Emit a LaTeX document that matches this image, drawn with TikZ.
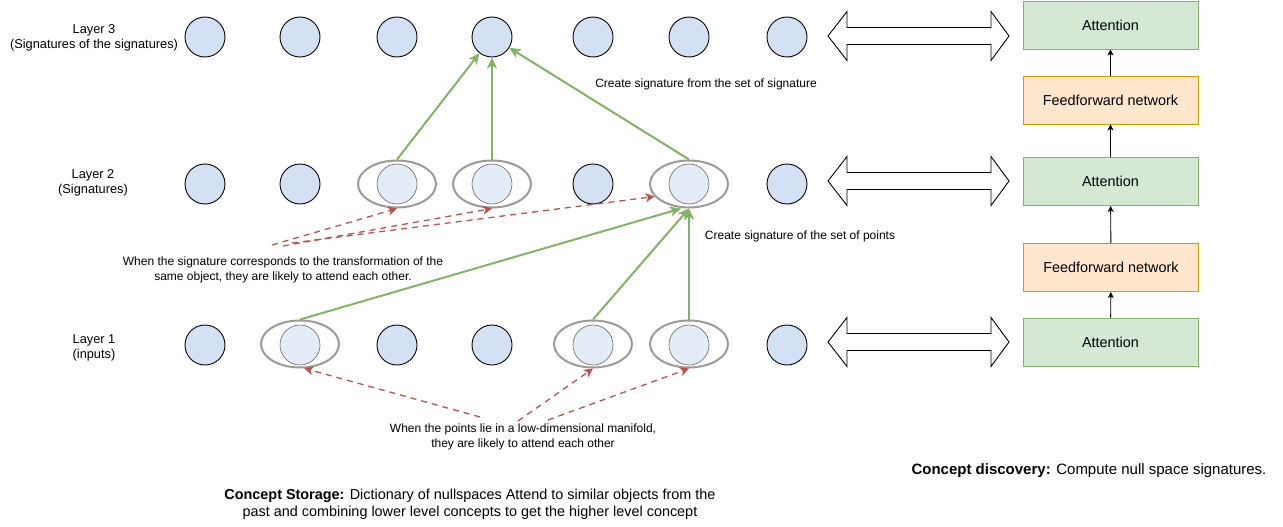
\documentclass[tikz,border=0pt]{standalone}
\usepackage{fontspec}
\setmainfont{Liberation Sans}
\usetikzlibrary{arrows.meta,shapes.geometric}
\definecolor{dotfill}{HTML}{D4E1F5}
\definecolor{palefill}{HTML}{E4ECF8}
\definecolor{ringgray}{HTML}{9A9A9A}
\definecolor{innergray}{HTML}{666666}
\definecolor{grn}{HTML}{82B366}
\definecolor{rd}{HTML}{B85450}
\definecolor{attfill}{HTML}{D5E8D4}
\definecolor{fffill}{HTML}{FFE6CC}
\definecolor{ffline}{HTML}{D79B00}

\tikzset{
  dot/.style={circle,draw=black,fill=dotfill,line width=0.9pt,minimum size=40pt,inner sep=0pt},
  pale/.style={circle,draw=innergray,fill=palefill,line width=0.6pt,minimum size=40pt,inner sep=0pt},
  ring/.style={ellipse,draw=ringgray,line width=2pt,minimum width=78pt,minimum height=47pt,inner sep=0pt},
  lbl/.style={align=center,font=\fontsize{12.8}{15.5}\selectfont},
  note/.style={align=center,font=\fontsize{12}{15}\selectfont},
  concept/.style={align=center,font=\fontsize{14.4}{17}\selectfont},
  attbox/.style={draw=grn,fill=attfill,line width=0.9pt,minimum width=175pt,minimum height=48pt,font=\fontsize{14.4}{16}\selectfont},
  ffbox/.style={draw=ffline,fill=fffill,line width=0.9pt,minimum width=175pt,minimum height=48pt,font=\fontsize{14.4}{16}\selectfont},
  sigarrow/.style={draw=grn,line width=2pt,-{Stealth[length=11pt,width=10pt,inset=3pt]}},
  attendarrow/.style={draw=rd,line width=1.3pt,dash pattern=on 6pt off 5pt,-{Stealth[length=9pt,width=9pt,inset=2.5pt]}},
  uparrow/.style={draw=black,line width=0.9pt,-{Stealth[length=6pt,width=6pt,inset=1.5pt]}},
  blockarr/.style={draw=black,fill=white,line width=0.9pt,line join=miter}
}

\begin{document}
\begin{tikzpicture}[x=1pt,y=-1pt]
  \useasboundingbox (0,0) rectangle (1283,527);

  % layer 3
  \foreach \x [count=\i] in {205,300,397,492,593,689,787}
    \node[dot] (c3-\i) at (\x,37) {};

  % layer 2
  \foreach \i/\x in {1/205,2/300,5/593,7/787}
    \node[dot] (c2-\i) at (\x,184) {};
  \foreach \i/\x in {3/397,4/492,6/689} {
    \node[ring] (e2-\i) at (\x,184) {};
    \node[pale] (c2-\i) at (\x,184) {};
  }

  % layer 1
  \foreach \i/\x in {1/205,3/397,4/492,7/787}
    \node[dot] (c1-\i) at (\x,345) {};
  \foreach \i/\x in {2/300,5/593,6/689} {
    \node[ring] (e1-\i) at (\x,344) {};
    \node[pale] (c1-\i) at (\x,345) {};
  }

  \node[lbl] (l3) at (94,38) {Layer 3\\(Signatures of the signatures)};
  \node[lbl] (l2) at (93,183) {Layer 2\\(Signatures)};
  \node[lbl] (l1) at (94,348) {Layer 1\\(inputs)};

  % signatures
  \draw[sigarrow] (e2-3.north) -- (c3-4);
  \draw[sigarrow] (e2-4.north) -- (c3-4);
  \draw[sigarrow] (e2-6.north) -- (c3-4);
  \draw[sigarrow] (e1-2.north) -- ([xshift=-8pt]e2-6.south);
  \draw[sigarrow] (e1-5.north) -- (e2-6.south);
  \draw[sigarrow] (e1-6.north) -- (e2-6.south);

  \node[note] (t3) at (706,84) {Create signature from the set of signature};
  \node[note] (t2) at (800,236) {Create signature of the set of points};

  % attention between signatures
  \coordinate (s2a) at (272,245);
  \coordinate (s2b) at (283,246);
  \coordinate (s2c) at (292,243);
  \draw[attendarrow] (s2a) -- (e2-3.south);
  \draw[attendarrow] (s2b) -- (e2-4.south);
  \draw[attendarrow] (s2c) -- (e2-6.200);
  \node[note] (n2) at (283,270) {When the signature corresponds to the transformation of the\\same object, they are likely to attend each other.};

  % attention between points
  \coordinate (s1a) at (480,417);
  \coordinate (s1b) at (518,421);
  \coordinate (s1c) at (548,420);
  \draw[attendarrow] (s1a) -- (e1-2.-80);
  \draw[attendarrow] (s1b) -- (e1-5.south);
  \draw[attendarrow] (s1c) -- (e1-6.south);
  \node[note] (n1) at (523,437) {When the points lie in a low-dimensional manifold,\\they are likely to attend each other};

  % block arrows
  \foreach \c in {36,181,342}
    \draw[blockarr] (828,\c) -- ++(19,-24.5) -- ++(0,16) -- ++(144,0) -- ++(0,-16)
      -- ++(18,24.5) -- ++(-18,24.5) -- ++(0,-16) -- ++(-144,0) -- ++(0,16) -- cycle;

  % transformer stack
  \node[attbox] (a1) at (1110.5,342) {Attention};
  \node[ffbox] (f1) at (1111,267.5) {Feedforward network};
  \node[attbox] (a2) at (1110.5,181.5) {Attention};
  \node[ffbox] (f2) at (1110.5,100) {Feedforward network};
  \node[attbox] (a3) at (1110.5,25) {Attention};
  \draw[uparrow] (a1) -- (f1);
  \draw[uparrow] (f1) -- (a2);
  \draw[uparrow] (a2) -- (f2);
  \draw[uparrow] (f2) -- (a3);

  \node[concept] (cs) at (470,504) {\textbf{Concept Storage:} Dictionary of nullspaces Attend to similar objects from the\\past and combining lower level concepts to get the higher level concept};
  \node[concept,font=\fontsize{15}{17}\selectfont] (cd) at (1089,471) {\textbf{Concept discovery:} Compute null space signatures.};
\end{tikzpicture}
\end{document}
